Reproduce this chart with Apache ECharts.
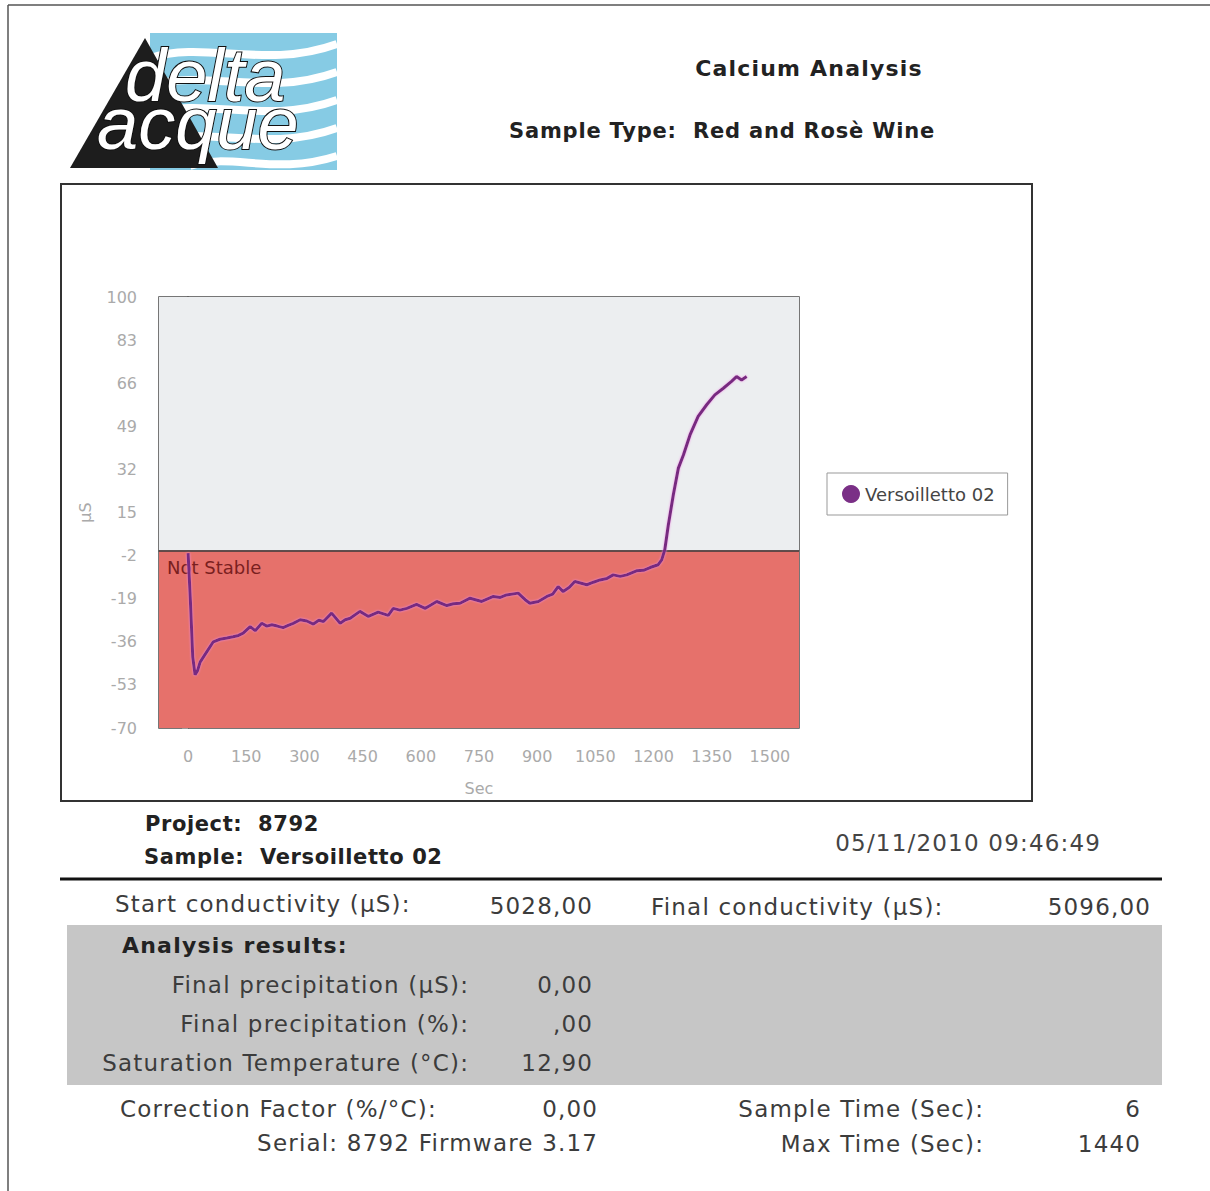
<!DOCTYPE html>
<html>
<head>
<meta charset="utf-8">
<script src="https://cdn.jsdelivr.net/npm/echarts@6/dist/echarts.min.js"></script>
<style>
  body { margin: 0; background: #fff; }
  #page { position: relative; width: 1210px; height: 1191px; overflow: hidden; background: #fff; }
  #chart { position: absolute; left: 0; top: 0; width: 1210px; height: 1191px; }
  .t { position: absolute; font-family: 'DejaVu Sans', Verdana, sans-serif; white-space: pre; line-height: 1; color: #3c3c3c; }
</style>
</head>
<body>
<div id="page">
  <div id="chart"></div>
</div>
<script>
// ---------------- data ----------------
const seriesName = 'Versoilletto 02';
const xLabels = ['0', '150', '300', '450', '600', '750', '900', '1050', '1200', '1350', '1500'];
const yMin = -70, yMax = 100, yStep = 17;
const threshold = 0;
const thresholdLabel = 'Not Stable';
const times = [0, 6, 12, 18, 24, 31, 48, 65, 82, 100, 116, 130, 142, 160, 173, 190, 203, 216, 230, 245,
  258, 271, 289, 306, 323, 337, 349, 370, 392, 405, 418, 443, 465, 490, 516, 529, 546, 564, 589, 611,
  626, 641, 667, 684, 701, 727, 757, 787, 805, 821, 851, 869, 881, 903, 925, 940, 954, 967, 983, 997,
  1028, 1045, 1062, 1080, 1096, 1114, 1131, 1156, 1174, 1191, 1212, 1221, 1229, 1238, 1251, 1264, 1277,
  1294, 1315, 1337, 1358, 1380, 1401, 1414, 1427, 1440];
const values = [-1, -20, -42, -49, -47.5, -44, -40, -36, -35, -34.5, -34, -33.5, -32.6, -30, -31.6, -28.7, -29.8, -29.3, -29.8, -30.4,
  -29.5, -28.7, -27.3, -27.8, -29, -27.5, -28, -24.7, -28.7, -27.3, -26.7, -24, -26, -24.3, -25.6, -22.8, -23.5, -22.8, -21.2, -22.8,
  -21.5, -20.1, -21.7, -21, -20.8, -18.8, -20.1, -18.1, -18.5, -17.5, -16.8, -19.4, -20.8, -20.1, -18.1, -17.2, -14.2, -16.2, -14.5, -12.2,
  -13.5, -12.5, -11.6, -11, -9.6, -10.2, -9.6, -8, -7.8, -6.7, -5.6, -3.7, 0.3, 10, 22, 32.5, 37.7,
  45.6, 52.9, 57.5, 61.4, 64, 66.7, 68.6, 67.3, 68.6];

// page texts: [text, x, yCenter, align, size, bold, letterSpacing, color]
const texts = [
  ['Calcium Analysis', 809, 69, 'center', 22, true, 1.2, '#222'],
  ['Sample Type:  Red and Rosè Wine', 509, 131, 'left', 21, true, 0.8, '#222'],
  ['Project:  8792', 145, 824, 'left', 21, true, 0.6, '#222'],
  ['Sample:  Versoilletto 02', 144, 857, 'left', 21, true, 0.6, '#222'],
  ['05/11/2010 09:46:49', 1100, 843, 'right', 23, false, 1.2, '#444'],
  ['Start conductivity (µS):', 115, 904, 'left', 23, false, 1.2, '#3c3c3c'],
  ['5028,00', 592, 906, 'right', 23, false, 1.2, '#3c3c3c'],
  ['Final conductivity (µS):', 651, 907, 'left', 23, false, 1.2, '#3c3c3c'],
  ['5096,00', 1150, 907, 'right', 23, false, 1.2, '#3c3c3c'],
  ['Analysis results:', 122, 946, 'left', 22, true, 1.2, '#222'],
  ['Final precipitation (µS):', 468, 985, 'right', 23, false, 1.2, '#3c3c3c'],
  ['0,00', 592, 985, 'right', 23, false, 1.2, '#3c3c3c'],
  ['Final precipitation (%):', 468, 1024, 'right', 23, false, 1.2, '#3c3c3c'],
  [',00', 592, 1024, 'right', 23, false, 1.2, '#3c3c3c'],
  ['Saturation Temperature (°C):', 468, 1063, 'right', 23, false, 1.2, '#3c3c3c'],
  ['12,90', 592, 1063, 'right', 23, false, 1.2, '#3c3c3c'],
  ['Correction Factor (%/°C):', 120, 1109, 'left', 23, false, 1.2, '#3c3c3c'],
  ['0,00', 597, 1109, 'right', 23, false, 1.2, '#3c3c3c'],
  ['Serial: 8792 Firmware 3.17', 597, 1143, 'right', 23, false, 1.2, '#3c3c3c'],
  ['Sample Time (Sec):', 983, 1109, 'right', 23, false, 1.2, '#3c3c3c'],
  ['6', 1140, 1109, 'right', 23, false, 1.2, '#3c3c3c'],
  ['Max Time (Sec):', 983, 1144, 'right', 23, false, 1.2, '#3c3c3c'],
  ['1440', 1140, 1144, 'right', 23, false, 1.2, '#3c3c3c']
];

// ---------------- html text ----------------
const page = document.getElementById('page');
texts.forEach(([txt, x, y, align, size, bold, ls, color]) => {
  const d = document.createElement('div');
  d.className = 't';
  d.textContent = txt;
  d.style.fontSize = size + 'px';
  d.style.fontWeight = bold ? 'bold' : 'normal';
  d.style.letterSpacing = ls + 'px';
  d.style.color = color;
  d.style.top = (y - size * 0.48) + 'px';
  if (align === 'left') d.style.left = x + 'px';
  else if (align === 'right') d.style.right = (1210 - x - ls) + 'px';
  else { d.style.left = (x - 300) + 'px'; d.style.width = '600px'; d.style.textAlign = 'center'; }
  page.appendChild(d);
});

// ---------------- chart ----------------
const FONT = "'DejaVu Sans', Verdana, sans-serif";
const chart = echarts.init(document.getElementById('chart'), null, { renderer: 'svg' });

function stripe(x1, y1, c1x, c1y, c2x, c2y, x2, y2) {
  return { type: 'bezierCurve', shape: { x1: x1, y1: y1, cpx1: c1x, cpy1: c1y, cpx2: c2x, cpy2: c2y, x2: x2, y2: y2 },
           style: { fill: null, stroke: '#fff', lineWidth: 8 }, z: 2 };
}

const LOGO_FONT = 'italic 74px "Liberation Sans", Arial, sans-serif';
const logo = [
  { type: 'rect', shape: { x: 150, y: 33, width: 187, height: 137 }, style: { fill: '#86cbe4' }, z: 1 },
  stripe(150, 58, 205, 40, 265, 70, 337, 44),
  stripe(150, 86, 205, 68, 265, 98, 337, 72),
  stripe(150, 114, 205, 96, 265, 126, 337, 100),
  stripe(150, 142, 205, 124, 265, 154, 337, 128),
  stripe(190, 166, 230, 152, 275, 176, 337, 156),
  { type: 'polygon', shape: { points: [[70, 168], [145, 38], [218, 168]] }, style: { fill: '#1d1d1d' }, z: 3 },
  { type: 'text', x: 97, y: 51, z: 4,
    style: {
      text: '{d|delta}\n{q|acque}',
      rich: {
        d: { font: LOGO_FONT, fill: '#fff', stroke: '#111', lineWidth: 2, lineHeight: 48, padding: [0, 0, 0, 28] },
        q: { font: LOGO_FONT, fill: '#fff', stroke: '#111', lineWidth: 2, lineHeight: 48 }
      }
    }
  }
];

const frames = [
  { type: 'line', shape: { x1: 8, y1: 5, x2: 1210, y2: 5 }, style: { stroke: '#555', lineWidth: 1.5 } },
  { type: 'line', shape: { x1: 8, y1: 5, x2: 8, y2: 1191 }, style: { stroke: '#555', lineWidth: 1.5 } },
  { type: 'rect', shape: { x: 61, y: 184, width: 971, height: 617 }, style: { fill: null, stroke: '#333', lineWidth: 2 } },
  { type: 'line', shape: { x1: 60, y1: 879, x2: 1162, y2: 879 }, style: { stroke: '#111', lineWidth: 3 } },
  { type: 'rect', shape: { x: 67, y: 925, width: 1095, height: 160 }, style: { fill: '#c6c6c6' }, z: -1 }
];

const option = {
  animation: false,
  backgroundColor: 'transparent',
  graphic: logo.concat(frames),
  grid: { left: 159, top: 297, width: 640, height: 431, show: true, borderColor: '#4a4a4a', borderWidth: 1.5, backgroundColor: 'transparent' },
  legend: {
    left: 827, top: 473, orient: 'vertical',
    data: [{ name: seriesName, icon: 'circle' }],
    itemWidth: 18, itemHeight: 18,
    textStyle: { fontFamily: FONT, fontSize: 18, color: '#444' },
    borderColor: '#999', borderWidth: 1, padding: [12, 13, 12, 15], backgroundColor: '#fff'
  },
  xAxis: [
    {
      type: 'category', data: xLabels, boundaryGap: true, position: 'bottom',
      axisLine: { show: true, lineStyle: { color: '#4a4a4a', width: 1.5 } },
      axisTick: { show: true, length: 8, lineStyle: { color: '#777' } },
      axisLabel: { color: '#aaa', fontSize: 16, margin: 20, fontFamily: FONT },
      splitLine: { show: false },
      name: 'Sec', nameLocation: 'middle', nameGap: 52,
      nameTextStyle: { color: '#aaa', fontSize: 16, fontFamily: FONT }
    },
    { type: 'value', min: -75, max: 1575, show: false }
  ],
  yAxis: {
    type: 'value', min: yMin, max: yMax, interval: yStep,
    axisLine: { show: true, lineStyle: { color: '#4a4a4a', width: 1.5 } },
    axisTick: { show: true, length: 6, lineStyle: { color: '#999' } },
    minorTick: { show: true, splitNumber: 5, length: 3, lineStyle: { color: '#aaa' } },
    axisLabel: { color: '#aaa', fontSize: 16, margin: 22, fontFamily: FONT },
    splitLine: { show: false },
    name: 'µS', nameLocation: 'middle', nameRotate: 90, nameGap: 66,
    nameTextStyle: { color: '#aaa', fontSize: 16, fontFamily: FONT }
  },
  series: [{
    name: seriesName, type: 'line', xAxisIndex: 1,
    data: times.map((t, i) => [t, values[i]]),
    showSymbol: false, symbol: 'circle',
    itemStyle: { color: '#7a2f86' },
    lineStyle: { width: 3, color: '#772a80', shadowColor: 'rgba(240,140,230,0.9)', shadowBlur: 2 },
    z: 5,
    markArea: {
      silent: true,
      data: [
        [{ yAxis: threshold, itemStyle: { color: '#eceef0' } }, { yAxis: yMax }],
        [{ yAxis: yMin, itemStyle: { color: '#e6716b' },
           label: { show: true, position: 'insideTopLeft', formatter: thresholdLabel, color: '#7a1f1f', fontSize: 18, fontFamily: FONT, distance: 8 } },
         { yAxis: threshold }]
      ]
    },
    markLine: {
      silent: true, symbol: 'none', label: { show: false },
      lineStyle: { color: '#3a3a3a', width: 1.5, type: 'solid' },
      data: [{ yAxis: threshold }]
    }
  }]
};
chart.setOption(option);
</script>
</body>
</html>
